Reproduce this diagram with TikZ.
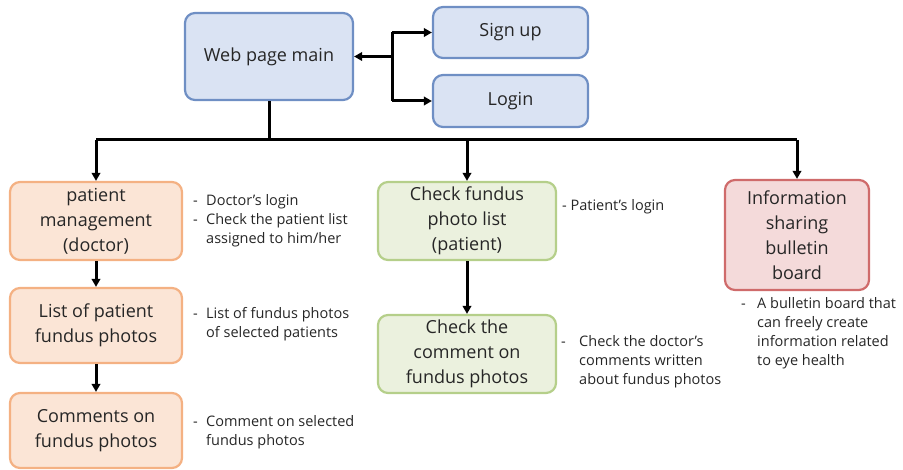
\documentclass[tikz,border=0pt]{standalone}
\usepackage{fontspec}
\setmainfont{Open Sans}
\usetikzlibrary{arrows.meta}
\definecolor{bluefill}{HTML}{DAE3F3}
\definecolor{blueline}{HTML}{6F8FC4}
\definecolor{orfill}{HTML}{FBE5D6}
\definecolor{orline}{HTML}{F4B183}
\definecolor{grfill}{HTML}{EBF1DE}
\definecolor{grline}{HTML}{B5CF8A}
\definecolor{rdfill}{HTML}{F4DADA}
\definecolor{rdline}{HTML}{CF6B6B}
\tikzset{
  box/.style={draw, line width=2.2pt, rounded corners=10pt, align=center, inner sep=2pt,
    font=\fontsize{18}{25}\selectfont, text=black!85},
  bluebox/.style={box, draw=blueline, fill=bluefill},
  orbox/.style={box, draw=orline, fill=orfill, minimum width=172pt},
  grbox/.style={box, draw=grline, fill=grfill, minimum width=178pt},
  rdbox/.style={box, draw=rdline, fill=rdfill},
  note/.style={anchor=north west, align=left, inner sep=0pt,
    font=\fontsize{14.5}{19}\selectfont, text=black!85},
  conn/.style={line width=3pt, black},
  arr/.style={conn, -{Triangle[length=8pt,width=8.5pt]}},
}
\newcommand{\dsh}{\makebox[13pt][l]{-}}
\newcommand{\ind}{\hspace*{13pt}}
\begin{document}
\begin{tikzpicture}[x=1pt,y=-1pt]
\useasboundingbox (0,0) rectangle (903,470);
% top row
\node[bluebox, minimum width=168pt, minimum height=87pt] (main) at (269,56.5) {Web page main};
\node[bluebox, minimum width=155pt, minimum height=51pt] (signup) at (510.5,32.5) {Sign up};
\node[bluebox, minimum width=155pt, minimum height=52pt] (login) at (510.5,101) {Login};
% left column
\node[orbox, minimum height=78pt] (pm) at (96,221) {patient\\management\\(doctor)};
\node[orbox, minimum height=75pt] (list) at (96,325.5) {List of patient\\fundus photos};
\node[orbox, minimum height=75pt] (comm) at (96,430.5) {Comments on\\fundus photos};
% middle column
\node[grbox, minimum height=78pt] (cf) at (467,221) {Check fundus\\photo list\\(patient)};
\node[grbox, minimum height=78pt] (cc) at (467,354) {Check the\\comment on\\fundus photos};
% right column
\node[rdbox, minimum width=144pt, minimum height=110pt] (info) at (797,235) {Information\\sharing\\bulletin\\board};
% connectors
\coordinate (j) at (392,56.5);
\coordinate (busL) at (96,140);
\coordinate (busR) at (797,140);
\draw[arr] (j) -- (main.east);
\draw[conn] (j |- signup.west) -- (j |- login.west);
\draw[arr] (j |- signup.west) -- (signup.west);
\draw[arr] (j |- login.west) -- (login.west);
\draw[conn] (main.south) -- (main.south |- busL);
\draw[conn] (busL) -- (busR);
\draw[arr] (busL) -- (pm.north);
\draw[arr] (cf.north |- busL) -- (cf.north);
\draw[arr] (busR) -- (info.north);
\draw[arr] (pm.south) -- (list.north);
\draw[arr] (list.south) -- (comm.north);
\draw[arr] (cf.south) -- (cc.north);
% notes
\node[note] (n1) at (193,194) {\dsh Doctor's login\\\dsh Check the patient list\\\ind assigned to him/her};
\node[note] (n2) at (193,307) {\dsh List of fundus photos\\\ind of selected patients};
\node[note] (n3) at (193,415) {\dsh Comment on selected\\\ind fundus photos};
\node[note] (n4) at (562,199) {- Patient's login};
\node[note] (n5) at (561,335) {\makebox[18pt][l]{-}Check the doctor's\\\hspace*{18pt}comments written\\\hspace*{18pt}about fundus photos};
\node[note] (n6) at (741,297) {\makebox[16pt][l]{-}A bulletin board that\\\hspace*{16pt}can freely create\\\hspace*{16pt}information related\\\hspace*{16pt}to eye health};
\end{tikzpicture}
\end{document}
